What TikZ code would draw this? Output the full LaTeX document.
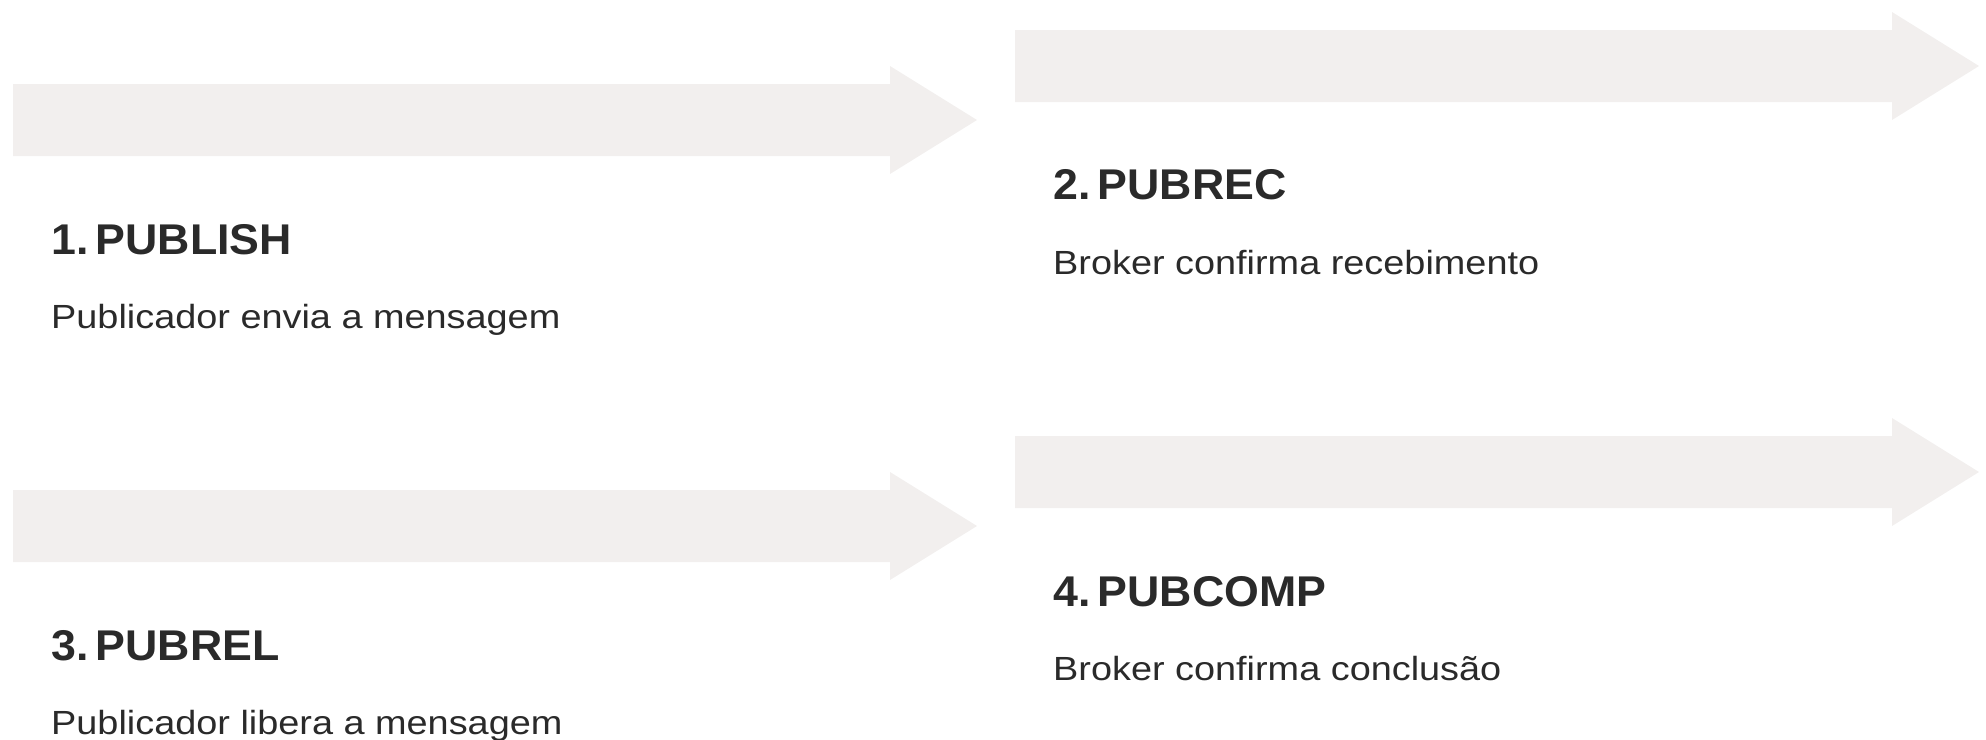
\documentclass[tikz,border=0pt]{standalone}
\usepackage{fontspec}
\setmainfont{Liberation Sans}
\newfontfamily\notefont{Liberation Sans}[FakeStretch=1.13]
\newfontfamily\titlefont{Liberation Sans}[FakeStretch=1.04]
\definecolor{arrowgray}{HTML}{F2EFEE}
\definecolor{inkdark}{HTML}{2A2A2A}
\begin{document}
\begin{tikzpicture}[x=1pt,y=-1pt,
  band/.style={fill=arrowgray},
  steptitle/.style={anchor=base west,inner sep=0pt,text=inkdark,font=\titlefont\fontsize{43}{48}\selectfont\bfseries},
  stepnote/.style={anchor=base west,inner sep=0pt,text=inkdark,font=\notefont\fontsize{33.5}{38}\selectfont},
  pics/flowarrow/.style={code={
    \fill[band] (0,-36) -- (877,-36) -- (877,-54) -- (964,0) -- (877,54) -- (877,36) -- (0,36) -- cycle;
  }}]
\useasboundingbox (0,0) rectangle (1986,739);
% arrow bands
\pic at (13,120) {flowarrow};
\pic at (1015,66) {flowarrow};
\pic at (13,526) {flowarrow};
\pic at (1015,472) {flowarrow};
% step labels
\node[steptitle] (t1) at (51,254) {1.\,PUBLISH};
\node[stepnote] (n1) at (51,328) {Publicador envia a mensagem};
\node[steptitle] (t2) at (1053,199) {2.\,PUBREC};
\node[stepnote] (n2) at (1053,274) {Broker confirma recebimento};
\node[steptitle] (t3) at (51,660) {3.\,PUBREL};
\node[stepnote] (n3) at (51,734) {Publicador libera a mensagem};
\node[steptitle] (t4) at (1053,606) {4.\,PUBCOMP};
\node[stepnote] (n4) at (1053,680) {Broker confirma conclusão};
\end{tikzpicture}
\end{document}
